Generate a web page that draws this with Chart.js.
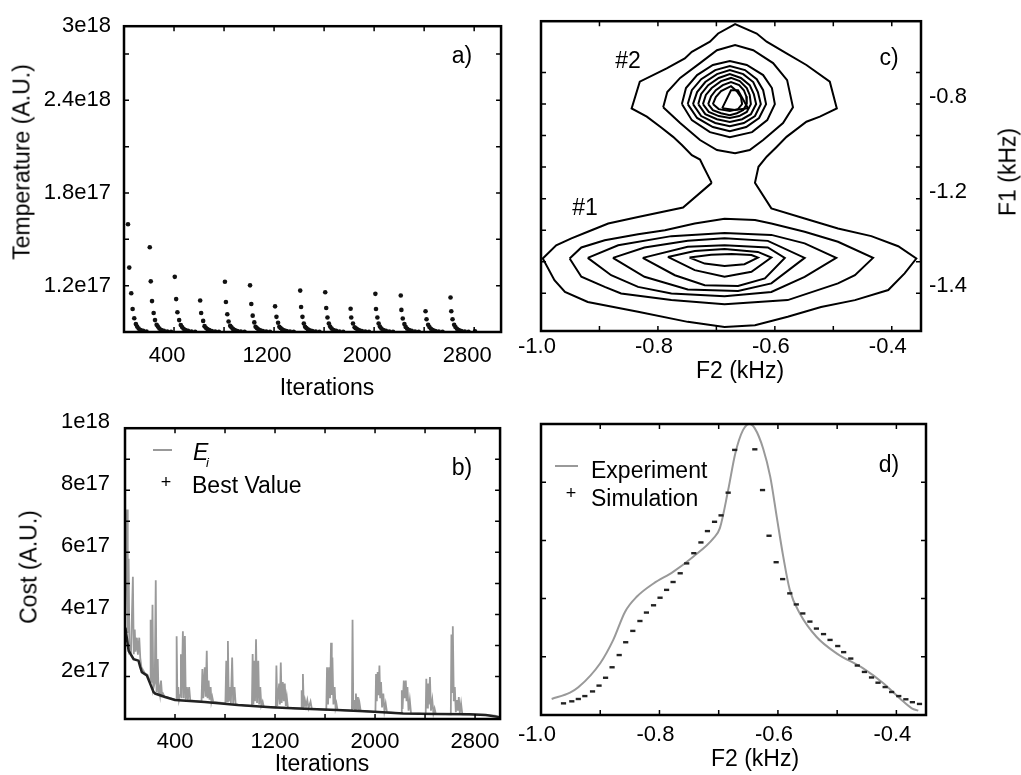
<!DOCTYPE html>
<html>
<head>
<meta charset="utf-8">
<script src="https://cdn.jsdelivr.net/npm/chart.js@4.4.0/dist/chart.umd.min.js"></script>
<style>
  body { margin: 0; background: #fff; }
  #page { position: relative; width: 1021px; height: 775px; overflow: hidden; background: #fff; }
  canvas { position: absolute; }
  .txt { position: absolute; font-family: "Liberation Sans", Arial, sans-serif; font-size: 23px; line-height: 1; color: #000; white-space: nowrap; }
  .c { transform: translate(-50%, -50%); }
  .l { transform: translate(0, -50%); }
  .v { transform: translate(-50%, -50%) rotate(-90deg); }
  .seg { position: absolute; height: 2px; background: #999; }
</style>
</head>
<body>
<div id="page">
  <canvas id="tempChart" width="510" height="400" style="left:0;top:0;width:510px;height:400px"></canvas>
  <canvas id="contourChart" width="511" height="400" style="left:510px;top:0;width:511px;height:400px"></canvas>
  <canvas id="costChart" width="510" height="375" style="left:0;top:400px;width:510px;height:375px"></canvas>
  <canvas id="spectrumChart" width="511" height="375" style="left:510px;top:400px;width:511px;height:375px"></canvas>

  <!-- axis titles -->
  <div class="txt v" style="left:22px;top:162px">Temperature (A.U.)</div>
  <div class="txt c" style="left:327px;top:387px">Iterations</div>
  <div class="txt v" style="left:29px;top:567px">Cost (A.U.)</div>
  <div class="txt c" style="left:322px;top:763px">Iterations</div>
  <div class="txt c" style="left:740px;top:370px">F2 (kHz)</div>
  <div class="txt v" style="left:1008px;top:172px">F1 (kHz)</div>
  <div class="txt c" style="left:755px;top:758px">F2 (kHz)</div>

  <!-- panel tags -->
  <div class="txt c" style="left:462px;top:55px">a)</div>
  <div class="txt c" style="left:462px;top:467px">b)</div>
  <div class="txt c" style="left:889px;top:57px">c)</div>
  <div class="txt c" style="left:889px;top:464px">d)</div>
  <div class="txt c" style="left:628px;top:60px">#2</div>
  <div class="txt c" style="left:585px;top:207px">#1</div>

  <!-- legend b -->
  <div class="seg" style="left:153px;top:449px;width:19px"></div>
  <div class="txt l" style="left:193px;top:452px;font-style:italic">E</div>
  <div class="txt l" style="left:206px;top:462px;font-style:italic;font-size:13px">i</div>
  <div class="txt c" style="left:166px;top:482px;font-size:18px">+</div>
  <div class="txt l" style="left:192px;top:485px">Best Value</div>

  <!-- legend d -->
  <div class="seg" style="left:555px;top:465px;width:23px"></div>
  <div class="txt l" style="left:591px;top:470px">Experiment</div>
  <div class="txt c" style="left:571px;top:493px;font-size:18px">+</div>
  <div class="txt l" style="left:591px;top:498px">Simulation</div>
</div>

<script>
// ---------- a) temperature per iteration (y in units of 1e17, axis labels as printed) ----------
const tempIter = [
  32, 42, 58, 69, 82, 95, 105, 117, 133, 153, 180,
  206, 214, 224, 237, 248, 261, 271, 283, 299, 319, 346, 376,
  406, 417, 427, 441, 454, 464, 476, 492, 512, 539, 569,
  609, 617, 633, 644, 654, 666, 682, 702, 729, 759,
  807, 815, 826, 836, 849, 859, 871, 887, 907, 934, 964,
  1008, 1018, 1029, 1042, 1052, 1062, 1074, 1090, 1110, 1137, 1167,
  1208, 1219, 1232, 1242, 1252, 1264, 1280, 1300, 1327, 1357,
  1409, 1416, 1427, 1438, 1448, 1458, 1470, 1486, 1506, 1533, 1563,
  1609, 1617, 1627, 1638, 1648, 1660, 1676, 1696, 1723, 1753,
  1812, 1817, 1831, 1844, 1854, 1866, 1882, 1902, 1929, 1959,
  2010, 2015, 2026, 2036, 2046, 2058, 2074, 2094, 2121, 2151,
  2213, 2218, 2229, 2242, 2252, 2264, 2280, 2300, 2327, 2357,
  2411, 2419, 2432, 2442, 2454, 2470, 2490, 2517, 2547,
  2611, 2617, 2627, 2640, 2650, 2662, 2678, 2698, 2725, 2755,
  2807
];
const tempValue = [
  1.598, 1.317, 1.151, 1.049, 0.989, 0.951, 0.935, 0.922, 0.913, 0.907, 0.903,
  1.449, 1.228, 1.100, 1.023, 0.977, 0.947, 0.935, 0.922, 0.913, 0.907, 0.903, 0.901,
  1.257, 1.113, 1.028, 0.977, 0.945, 0.932, 0.921, 0.913, 0.907, 0.903, 0.901,
  1.104, 1.023, 0.972, 0.938, 0.928, 0.919, 0.912, 0.906, 0.903, 0.901,
  1.225, 1.094, 1.015, 0.968, 0.940, 0.930, 0.920, 0.912, 0.906, 0.903, 0.901,
  1.202, 1.081, 1.006, 0.962, 0.934, 0.926, 0.918, 0.911, 0.906, 0.903, 0.901,
  1.066, 0.998, 0.960, 0.934, 0.926, 0.918, 0.911, 0.906, 0.903, 0.901,
  1.168, 1.062, 0.998, 0.955, 0.934, 0.926, 0.918, 0.911, 0.906, 0.903, 0.901,
  1.157, 1.055, 0.994, 0.955, 0.935, 0.922, 0.913, 0.907, 0.903, 0.901,
  1.051, 0.994, 0.955, 0.930, 0.924, 0.917, 0.911, 0.906, 0.903, 0.901,
  1.147, 1.049, 0.994, 0.955, 0.935, 0.922, 0.913, 0.907, 0.903, 0.901,
  1.136, 1.043, 0.987, 0.951, 0.933, 0.921, 0.913, 0.907, 0.903, 0.901,
  1.034, 0.983, 0.947, 0.932, 0.921, 0.912, 0.906, 0.903, 0.901,
  1.123, 1.034, 0.983, 0.947, 0.932, 0.921, 0.912, 0.906, 0.903, 0.901,
  0.905
];
const tempTickValues = [1.2, 1.8, 2.4, 2.88];
const tempTickLabels = ['1.2e17', '1.8e17', '2.4e18', '3e18'];
const iterTickValues = [400, 1200, 2000, 2800];

// ---------- b) cost (y in units of 1e17) ----------
const costIter = [
  2, 16, 22, 29, 35, 42, 48, 63, 70, 78, 84, 95, 103, 114, 122, 131, 145, 160,
  180, 200, 205, 212, 220, 226, 238, 246, 252, 262, 268, 272, 280, 288, 296, 304, 315,
  330, 360, 395,
  408, 413, 419, 426, 432, 440, 447, 453, 463, 470, 479, 486, 495, 503, 513, 522,
  560,
  612, 619, 626, 638, 645, 654, 660, 669, 676, 685, 691, 698, 706,
  760,
  803, 810, 816, 823, 830, 839, 847, 857, 865, 876, 885,
  950,
  1015, 1021, 1027, 1034, 1040, 1048, 1056, 1066, 1073, 1082, 1090, 1101, 1110,
  1160,
  1206, 1211, 1218, 1233, 1239, 1246, 1253, 1262, 1270, 1278, 1286, 1294, 1303,
  1360,
  1408, 1413, 1418, 1423, 1430, 1439, 1448, 1458, 1468, 1484, 1494,
  1560,
  1610, 1616, 1624, 1632, 1640, 1648, 1654, 1659, 1667, 1677, 1684, 1691, 1700,
  1760,
  1815, 1820, 1826, 1834, 1840, 1847, 1854, 1863, 1869, 1876, 1885,
  1950,
  2003, 2008, 2014, 2021, 2028, 2035, 2041, 2048, 2056, 2066, 2075, 2085, 2095,
  2160,
  2208, 2214, 2220, 2230, 2238, 2246, 2252, 2259, 2268, 2278, 2288,
  2350,
  2405, 2410, 2416, 2423, 2430, 2439, 2447, 2458, 2467, 2476, 2486,
  2560,
  2606, 2611, 2616, 2622, 2630, 2638, 2646, 2656, 2663, 2670, 2678, 2688, 2698,
  2780, 2886, 2960, 2995
];
const costValue = [
  4.0, 7.38, 3.4, 5.79, 2.83, 2.9, 2.75, 5.21, 2.72, 3.51, 2.8, 3.25, 2.7, 3.25, 2.6, 2.3, 2.2, 2.1,
  2.05, 1.8, 3.83, 1.8, 4.31, 1.6, 1.8, 5.10, 1.5, 2.56, 1.45, 1.66, 1.42, 1.87, 1.4, 1.45, 1.36,
  1.34, 1.30, 1.26,
  1.25, 3.30, 1.24, 1.66, 1.25, 1.4, 2.72, 1.3, 3.46, 1.3, 3.30, 1.26, 1.66, 1.25, 1.66, 1.23,
  1.21,
  1.19, 2.24, 1.3, 2.30, 1.35, 2.83, 1.3, 1.87, 1.25, 1.66, 1.2, 1.34, 1.18,
  1.16,
  1.13, 2.51, 1.2, 3.14, 1.2, 1.66, 1.15, 2.61, 1.12, 1.66, 1.10,
  1.07,
  1.05, 2.72, 1.1, 2.51, 1.2, 3.20, 1.15, 2.51, 1.1, 1.66, 1.06, 1.19, 1.03,
  1.01,
  1.0, 2.35, 1.05, 1.77, 1.1, 2.45, 1.15, 1.82, 1.2, 1.77, 1.05, 1.34, 0.99,
  0.97,
  0.97, 1.56, 1.0, 2.08, 1.0, 1.24, 1.05, 1.24, 0.98, 1.19, 0.96,
  0.94,
  0.93, 2.30, 1.1, 2.30, 1.3, 3.09, 1.4, 2.61, 1.1, 1.66, 1.0, 1.13, 0.92,
  0.91,
  0.9, 3.83, 0.95, 1.24, 0.92, 1.45, 0.93, 1.34, 0.92, 1.13, 0.89,
  0.87,
  0.86, 2.08, 1.2, 2.14, 1.4, 2.35, 1.3, 1.82, 1.0, 1.45, 0.9, 1.13, 0.85,
  0.83,
  0.82, 1.56, 0.95, 1.87, 1.3, 1.87, 1.2, 1.66, 0.9, 1.24, 0.8,
  0.8,
  0.79, 1.93, 1.0, 1.77, 1.1, 1.98, 0.9, 1.24, 0.82, 0.97, 0.79,
  0.79,
  0.78, 3.35, 1.5, 3.62, 1.2, 1.66, 0.85, 1.24, 0.9, 1.34, 0.82, 1.13, 0.78,
  0.77, 0.76, 0.74, 0.69
];
const bestIter = [3, 29, 69, 108, 122, 135, 175, 201, 228, 241, 320, 400, 638, 902, 1167, 1431, 1696, 1960, 2225, 2490, 2754, 2886, 2992];
const bestValue = [3.57, 2.83, 2.56, 2.51, 2.30, 2.14, 2.03, 1.77, 1.50, 1.45, 1.34, 1.24, 1.18, 1.08, 1.01, 0.96, 0.92, 0.87, 0.81, 0.79, 0.78, 0.76, 0.69];
const costTickValues = [2, 4, 6, 8, 10];
const costTickLabels = ['2e17', '4e17', '6e17', '8e17', '1e18'];

// ---------- c) 2D contour lines (F2, F1) ----------
const f2TickValues = [-1.0, -0.8, -0.6, -0.4];
const f2TickLabels = ['-1.0', '-0.8', '-0.6', '-0.4'];
const f1TickValues = [-0.8, -1.1, -1.4];
const f1TickLabels = ['-0.8', '-1.2', '-1.4'];

const contourOuter = [[-0.708,-1.050],[-0.722,-0.999],[-0.728,-0.976],[-0.742,-0.962],[-0.759,-0.930],[-0.774,-0.904],[-0.796,-0.872],[-0.819,-0.840],[-0.845,-0.814],[-0.831,-0.729],[-0.785,-0.687],[-0.754,-0.655],[-0.742,-0.634],[-0.711,-0.602],[-0.697,-0.576],[-0.668,-0.546],[-0.631,-0.576],[-0.614,-0.602],[-0.580,-0.639],[-0.546,-0.676],[-0.506,-0.729],[-0.494,-0.814],[-0.523,-0.840],[-0.546,-0.856],[-0.580,-0.904],[-0.597,-0.936],[-0.614,-0.967],[-0.628,-0.999],[-0.634,-1.050],[-0.606,-1.131],[-0.549,-1.163],[-0.492,-1.195],[-0.435,-1.219],[-0.389,-1.251],[-0.358,-1.290],[-0.378,-1.337],[-0.406,-1.390],[-0.463,-1.422],[-0.521,-1.444],[-0.578,-1.475],[-0.634,-1.502],[-0.686,-1.507],[-0.749,-1.491],[-0.834,-1.459],[-0.920,-1.428],[-0.959,-1.396],[-0.977,-1.359],[-0.997,-1.290],[-0.974,-1.248],[-0.948,-1.226],[-0.920,-1.205],[-0.885,-1.179],[-0.834,-1.158],[-0.757,-1.128],[-0.708,-1.050]];
const peak2Ring2 = [[-0.791,-0.810],[-0.784,-0.762],[-0.762,-0.717],[-0.728,-0.670],[-0.699,-0.629],[-0.668,-0.613],[-0.637,-0.629],[-0.603,-0.670],[-0.579,-0.724],[-0.569,-0.810],[-0.586,-0.860],[-0.620,-0.914],[-0.643,-0.946],[-0.668,-0.956],[-0.699,-0.946],[-0.728,-0.914],[-0.762,-0.860],[-0.791,-0.810]];
const peak2Ring3 = [[-0.759,-0.800],[-0.752,-0.749],[-0.733,-0.708],[-0.706,-0.676],[-0.677,-0.663],[-0.648,-0.676],[-0.620,-0.708],[-0.605,-0.749],[-0.600,-0.800],[-0.613,-0.851],[-0.639,-0.889],[-0.677,-0.905],[-0.711,-0.889],[-0.742,-0.851],[-0.759,-0.800]];
const peak2Ring4 = [[-0.749,-0.800],[-0.742,-0.756],[-0.726,-0.721],[-0.702,-0.692],[-0.677,-0.679],[-0.651,-0.692],[-0.631,-0.721],[-0.620,-0.756],[-0.615,-0.800],[-0.627,-0.844],[-0.649,-0.873],[-0.677,-0.886],[-0.706,-0.873],[-0.733,-0.844],[-0.749,-0.800]];
const peak2Ring5 = [[-0.740,-0.800],[-0.733,-0.762],[-0.719,-0.730],[-0.699,-0.705],[-0.677,-0.692],[-0.654,-0.705],[-0.637,-0.730],[-0.629,-0.762],[-0.624,-0.800],[-0.634,-0.838],[-0.653,-0.860],[-0.677,-0.870],[-0.702,-0.860],[-0.726,-0.838],[-0.740,-0.800]];
const peak2Ring6 = [[-0.731,-0.800],[-0.726,-0.768],[-0.714,-0.740],[-0.696,-0.717],[-0.677,-0.705],[-0.658,-0.717],[-0.643,-0.740],[-0.636,-0.768],[-0.632,-0.800],[-0.641,-0.832],[-0.656,-0.848],[-0.677,-0.857],[-0.699,-0.848],[-0.719,-0.832],[-0.731,-0.800]];
const peak2Ring7 = [[-0.723,-0.800],[-0.718,-0.771],[-0.708,-0.749],[-0.692,-0.727],[-0.675,-0.717],[-0.660,-0.727],[-0.648,-0.749],[-0.643,-0.771],[-0.641,-0.800],[-0.648,-0.825],[-0.661,-0.838],[-0.677,-0.844],[-0.696,-0.838],[-0.713,-0.825],[-0.723,-0.800]];
const peak2Ring8 = [[-0.714,-0.800],[-0.709,-0.775],[-0.701,-0.756],[-0.689,-0.740],[-0.675,-0.730],[-0.661,-0.740],[-0.653,-0.756],[-0.649,-0.775],[-0.648,-0.800],[-0.654,-0.819],[-0.665,-0.829],[-0.677,-0.835],[-0.692,-0.829],[-0.706,-0.819],[-0.714,-0.800]];
const peak2Ring9 = [[-0.706,-0.800],[-0.701,-0.778],[-0.692,-0.759],[-0.675,-0.743],[-0.665,-0.759],[-0.658,-0.778],[-0.656,-0.800],[-0.663,-0.816],[-0.677,-0.822],[-0.696,-0.816],[-0.706,-0.800]];
const peak2Top = [[-0.690,-0.813],[-0.675,-0.756],[-0.663,-0.756],[-0.646,-0.813],[-0.668,-0.819],[-0.690,-0.813]];
const peak1Ring2 = [[-0.951,-1.290],[-0.931,-1.255],[-0.891,-1.232],[-0.834,-1.213],[-0.788,-1.200],[-0.737,-1.179],[-0.686,-1.164],[-0.634,-1.168],[-0.606,-1.179],[-0.549,-1.205],[-0.492,-1.237],[-0.432,-1.288],[-0.463,-1.343],[-0.492,-1.369],[-0.578,-1.422],[-0.686,-1.435],[-0.777,-1.422],[-0.863,-1.401],[-0.891,-1.380],[-0.931,-1.348],[-0.951,-1.290]];
const peak1Ring3 = [[-0.920,-1.288],[-0.868,-1.248],[-0.777,-1.219],[-0.686,-1.209],[-0.606,-1.215],[-0.549,-1.242],[-0.495,-1.288],[-0.549,-1.348],[-0.606,-1.396],[-0.686,-1.410],[-0.777,-1.401],[-0.834,-1.380],[-0.880,-1.343],[-0.920,-1.288]];
const peak1Ring4 = [[-0.877,-1.288],[-0.823,-1.255],[-0.749,-1.234],[-0.686,-1.226],[-0.612,-1.234],[-0.549,-1.288],[-0.606,-1.369],[-0.663,-1.393],[-0.749,-1.388],[-0.823,-1.348],[-0.877,-1.288]];
const peak1Ring5 = [[-0.826,-1.288],[-0.749,-1.253],[-0.686,-1.248],[-0.612,-1.255],[-0.583,-1.288],[-0.617,-1.353],[-0.663,-1.377],[-0.720,-1.375],[-0.771,-1.343],[-0.826,-1.288]];
const peak1Ring6 = [[-0.783,-1.285],[-0.737,-1.266],[-0.686,-1.260],[-0.629,-1.269],[-0.606,-1.287],[-0.640,-1.332],[-0.686,-1.348],[-0.737,-1.327],[-0.783,-1.285]];
const peak1Top = [[-0.746,-1.287],[-0.709,-1.278],[-0.674,-1.276],[-0.640,-1.279],[-0.629,-1.287],[-0.652,-1.308],[-0.686,-1.314],[-0.720,-1.306],[-0.746,-1.287]];

// ---------- d) 1D spectrum ----------
const expF2 = [-0.982, -0.951, -0.937, -0.900, -0.878, -0.858, -0.838, -0.810, -0.777, -0.743, -0.709, -0.698, -0.684, -0.672, -0.659, -0.648, -0.639, -0.625, -0.613, -0.602, -0.591, -0.580, -0.563, -0.535, -0.501, -0.456, -0.422, -0.394, -0.374, -0.363];
const expIntensity = [0.055, 0.077, 0.095, 0.178, 0.258, 0.355, 0.407, 0.452, 0.492, 0.544, 0.607, 0.642, 0.773, 0.899, 0.979, 1.0, 0.985, 0.916, 0.819, 0.681, 0.544, 0.430, 0.349, 0.269, 0.212, 0.160, 0.109, 0.057, 0.023, 0.015];
const simF2 = [-0.962, -0.948, -0.937, -0.926, -0.913, -0.902, -0.891, -0.880, -0.868, -0.857, -0.845, -0.833, -0.822, -0.810, -0.799, -0.788, -0.777, -0.765, -0.754, -0.742, -0.730, -0.719, -0.707, -0.696, -0.684, -0.673, -0.639, -0.626, -0.615, -0.603, -0.592, -0.580, -0.569, -0.558, -0.546, -0.535, -0.523, -0.512, -0.499, -0.489, -0.477, -0.466, -0.454, -0.442, -0.431, -0.419, -0.408, -0.396, -0.384, -0.373, -0.361];
const simIntensity = [0.040, 0.047, 0.055, 0.065, 0.081, 0.101, 0.128, 0.164, 0.206, 0.250, 0.289, 0.323, 0.352, 0.377, 0.403, 0.430, 0.457, 0.487, 0.521, 0.556, 0.593, 0.632, 0.664, 0.686, 0.764, 0.911, 0.913, 0.773, 0.616, 0.525, 0.467, 0.418, 0.380, 0.349, 0.321, 0.297, 0.278, 0.258, 0.237, 0.216, 0.194, 0.170, 0.148, 0.129, 0.111, 0.096, 0.079, 0.065, 0.054, 0.044, 0.038];

Chart.defaults.font.family = '"Liberation Sans", Arial, sans-serif';
Chart.defaults.font.size = 22;
Chart.defaults.color = '#000';

// Helpers
function toPoints(xs, ys) {
    return xs.map((x, i) => ({ x: x, y: ys[i] }));
}

function pairPoints(list) {
    return list.map(p => ({ x: p[0], y: p[1] }));
}

function labelFor(values, labels) {
    return function(value) {
        const i = values.findIndex(v => Math.abs(v - value) < 1e-6);
        return i >= 0 ? labels[i] : '';
    };
}

// frame plus inward tick marks, MATLAB style
const framePlugin = {
    id: 'frame',
    afterDraw(chart) {
        const ctx = chart.ctx;
        const a = chart.chartArea;
        ctx.save();
        ctx.strokeStyle = '#000';
        ctx.lineWidth = 1.5;
        ctx.beginPath();
        Object.values(chart.scales).forEach(scale => {
            scale.ticks.forEach(t => {
                const p = scale.getPixelForValue(t.value);
                if (scale.isHorizontal()) {
                    if (p < a.left + 3 || p > a.right - 3) return;
                    ctx.moveTo(p, a.bottom); ctx.lineTo(p, a.bottom - 5);
                    ctx.moveTo(p, a.top); ctx.lineTo(p, a.top + 5);
                } else {
                    if (p < a.top + 3 || p > a.bottom - 3) return;
                    ctx.moveTo(a.left, p); ctx.lineTo(a.left + 5, p);
                    ctx.moveTo(a.right, p); ctx.lineTo(a.right - 5, p);
                }
            });
        });
        ctx.stroke();
        ctx.lineWidth = 2.5;
        ctx.strokeRect(a.left, a.top, a.right - a.left, a.bottom - a.top);
        ctx.restore();
    }
};

function axis(extra) {
    return Object.assign({
        type: 'linear',
        grid: { display: false, drawTicks: false },
        border: { display: false }
    }, extra);
}

const baseOptions = {
    responsive: false,
    animation: false,
    devicePixelRatio: 1,
    events: [],
    plugins: { legend: { display: false }, tooltip: { enabled: false } }
};

// a) temperature
new Chart(document.getElementById('tempChart'), {
    type: 'scatter',
    data: {
        datasets: [{
            data: toPoints(tempIter, tempValue),
            pointRadius: 2.3,
            pointBackgroundColor: '#111',
            pointBorderWidth: 0
        }]
    },
    options: Object.assign({}, baseOptions, {
        layout: { padding: { top: 22, right: 5, left: 0, bottom: 0 } },
        scales: {
            x: axis({
                min: 0, max: 3015,
                ticks: { stepSize: 400, autoSkip: false, maxRotation: 0, includeBounds: false, padding: 11, labelOffset: -7,
                         callback: v => iterTickValues.includes(v) ? String(v) : '' },
                afterFit: s => { s.height = 68; }
            }),
            y: axis({
                min: 0.9, max: 2.88,
                ticks: { stepSize: 0.3, autoSkip: false, padding: 13, callback: labelFor(tempTickValues, tempTickLabels) },
                afterFit: s => { s.width = 124; }
            })
        }
    }),
    plugins: [framePlugin]
});

// b) cost
new Chart(document.getElementById('costChart'), {
    type: 'scatter',
    data: {
        datasets: [{
            data: toPoints(bestIter, bestValue),
            showLine: true,
            borderColor: '#222',
            borderWidth: 2.5,
            pointRadius: 0
        }, {
            data: toPoints(costIter, costValue),
            showLine: true,
            borderColor: '#9a9a9a',
            borderWidth: 1.8,
            pointRadius: 0
        }]
    },
    options: Object.assign({}, baseOptions, {
        layout: { padding: { top: 25, right: 7, left: 0, bottom: 0 } },
        scales: {
            x: axis({
                min: 0, max: 3000,
                ticks: { stepSize: 400, autoSkip: false, maxRotation: 0, includeBounds: false, padding: 10,
                         callback: v => iterTickValues.includes(v) ? String(v) : '' },
                afterFit: s => { s.height = 56; }
            }),
            y: axis({
                min: 0.63, max: 10,
                ticks: { stepSize: 1, autoSkip: false, padding: 15, labelOffset: -6, callback: labelFor(costTickValues, costTickLabels) },
                afterFit: s => { s.width = 125; }
            })
        }
    }),
    plugins: [framePlugin]
});

// c) contour map
const contourLines = [contourOuter, peak2Ring2, peak2Ring3, peak2Ring4, peak2Ring5, peak2Ring6, peak2Ring7, peak2Ring8, peak2Ring9, peak2Top,
                      peak1Ring2, peak1Ring3, peak1Ring4, peak1Ring5, peak1Ring6, peak1Top];
new Chart(document.getElementById('contourChart'), {
    type: 'scatter',
    data: {
        datasets: contourLines.map(line => ({
            data: pairPoints(line),
            showLine: true,
            borderColor: '#000',
            borderWidth: 2,
            pointRadius: 0
        }))
    },
    options: Object.assign({}, baseOptions, {
        layout: { padding: { top: 21, right: 0, left: 31, bottom: 0 } },
        scales: {
            x: axis({
                min: -1.0, max: -0.35,
                ticks: { stepSize: 0.1, autoSkip: false, maxRotation: 0, includeBounds: false, padding: 3, labelOffset: -4,
                         callback: labelFor(f2TickValues, f2TickLabels) },
                afterFit: s => { s.height = 69; }
            }),
            y: axis({
                position: 'right',
                min: -1.52, max: -0.537,
                ticks: { stepSize: 0.1, autoSkip: false, padding: 8, labelOffset: -7, callback: labelFor(f1TickValues, f1TickLabels) },
                afterFit: s => { s.width = 100; }
            })
        }
    }),
    plugins: [framePlugin]
});

// d) spectrum
new Chart(document.getElementById('spectrumChart'), {
    type: 'scatter',
    data: {
        datasets: [{
            data: toPoints(simF2, simIntensity),
            pointStyle: 'line',
            pointRadius: 2.6,
            pointBorderWidth: 2.4,
            pointBorderColor: '#222',
            borderColor: '#222'
        }, {
            data: toPoints(expF2, expIntensity),
            showLine: true,
            cubicInterpolationMode: 'monotone',
            borderColor: '#999',
            borderWidth: 2,
            pointRadius: 0
        }]
    },
    options: Object.assign({}, baseOptions, {
        layout: { padding: { top: 24, right: 95, left: 31, bottom: 0 } },
        scales: {
            x: axis({
                min: -1.0, max: -0.35,
                ticks: { stepSize: 0.1, autoSkip: false, maxRotation: 0, includeBounds: false, padding: 7, labelOffset: -4,
                         callback: labelFor(f2TickValues, f2TickLabels) },
                afterFit: s => { s.height = 60; }
            }),
            y: axis({
                min: 0, max: 1,
                ticks: { stepSize: 0.2, display: false },
                afterFit: s => { s.width = 0; }
            })
        }
    }),
    plugins: [framePlugin]
});
</script>
</body>
</html>
